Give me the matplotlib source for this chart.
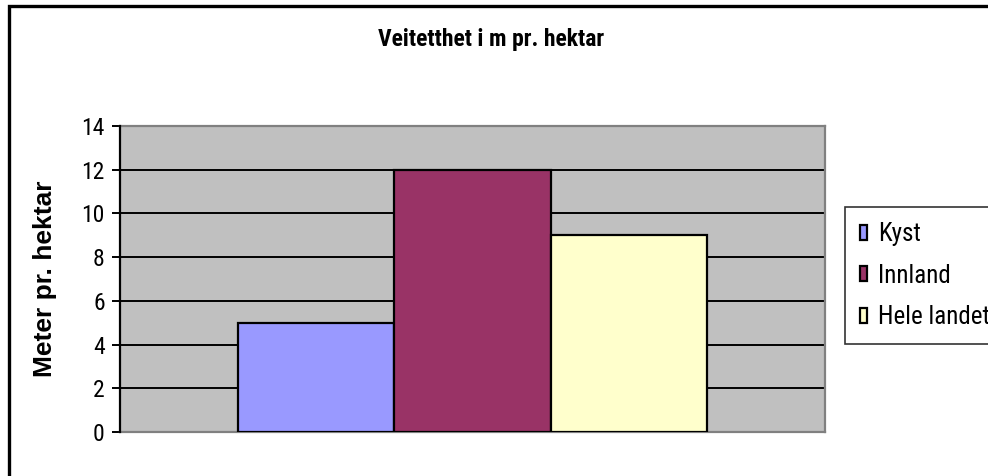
import matplotlib.pyplot as plt
from matplotlib.patches import Rectangle

# data
series = ["Kyst", "Innland", "Hele landet"]
values = [5, 12, 9]
colors = ["#9999FF", "#993366", "#FFFFCC"]
yticks = [0, 2, 4, 6, 8, 10, 12, 14]

narrow = ["Roboto Condensed", "DejaVu Sans"]

fig = plt.figure(figsize=(9.88, 4.76), dpi=100)
ax = fig.add_axes([0.1215, 0.0924, 0.7135, 0.643])
ax.set_facecolor("#C0C0C0")

# gridlines
for y in yticks[1:-1]:
    ax.axhline(y, color="black", lw=1.4, zorder=1)

for i, (name, v, c) in enumerate(zip(series, values, colors)):
    ax.bar(i, v, width=1.0, color=c, edgecolor="black", linewidth=1.6,
           label=name, zorder=3)

ax.set_xlim(-1.25, 3.25)
ax.set_ylim(0, 14)
ax.set_yticks(yticks)
ax.set_xticks([])
ax.tick_params(axis="y", direction="out", length=6, width=1.4, pad=5)
for t in ax.get_yticklabels():
    t.set_family(narrow)
    t.set_fontsize(17)

for s in ["top", "right", "bottom"]:
    ax.spines[s].set_color("#808080")
    ax.spines[s].set_linewidth(1.6)
ax.spines["left"].set_color("black")
ax.spines["left"].set_linewidth(1.6)
ax.spines["left"].set_zorder(4)

ax.set_ylabel("Meter pr. hektar", fontsize=19, fontweight="bold",
              family=["Liberation Sans", "DejaVu Sans"])
ax.yaxis.set_label_coords(-0.09, 0.5)

fig.text(0.4975, 0.916, "Veitetthet i m pr. hektar", ha="center", va="center",
         fontsize=17, fontweight="bold", family=narrow)

leg = fig.legend(loc="upper left", bbox_to_anchor=(0.855, 0.565),
                 borderaxespad=0, frameon=True, fancybox=False,
                 handlelength=0.3, handleheight=0.55, handletextpad=0.45,
                 labelspacing=0.7, borderpad=0.6,
                 prop={"family": narrow, "size": 18})
leg.get_frame().set_edgecolor("black")
leg.get_frame().set_linewidth(1.2)
for h in leg.legend_handles:
    h.set_linewidth(1.6)

# chart frame (top and left edges)
fig.patches.append(Rectangle((0.0095, -0.05), 1.1, 1.037, transform=fig.transFigure,
                             fill=False, edgecolor="black", linewidth=2.4))

fig.savefig("out.png", dpi=100)
